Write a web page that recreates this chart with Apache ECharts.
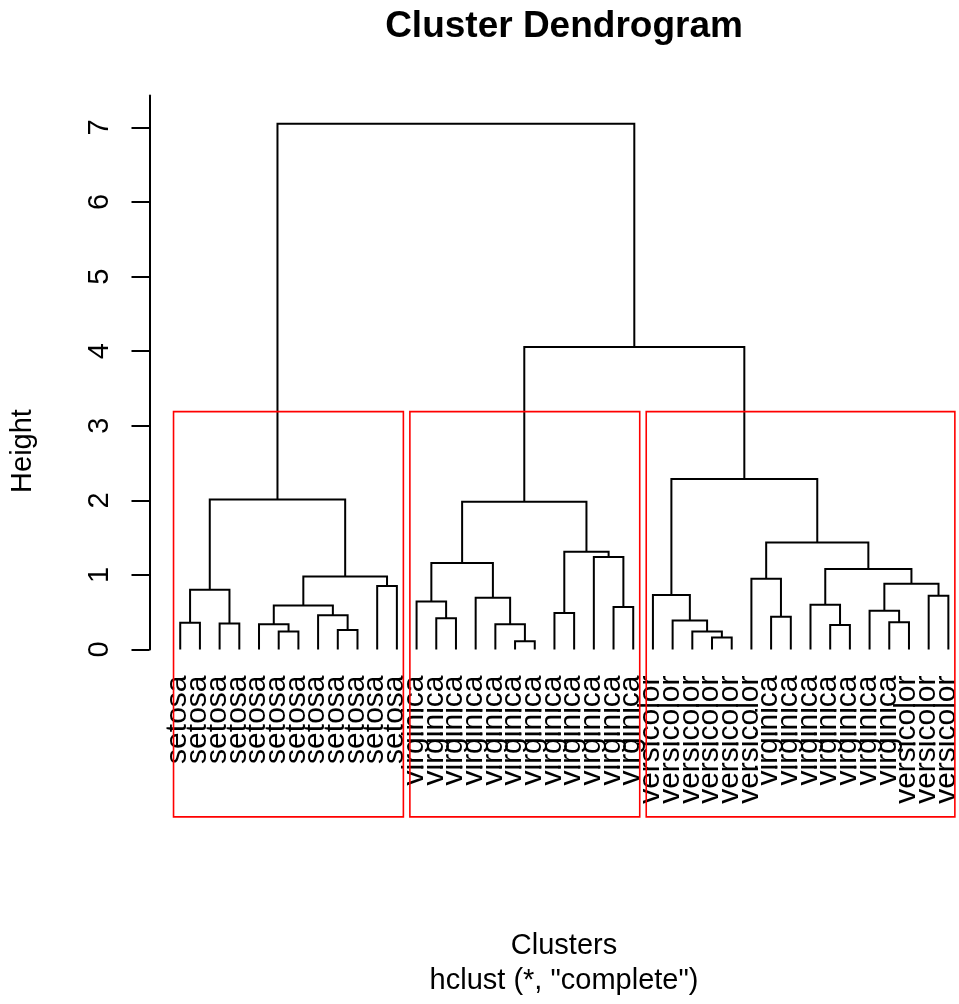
<!DOCTYPE html>
<html>
<head>
<meta charset="utf-8">
<script src="https://cdn.jsdelivr.net/npm/echarts@6/dist/echarts.min.js"></script>
<style>
html,body{margin:0;padding:0;background:#fff;}
#chart{width:959px;height:1004px;}
</style>
</head>
<body>
<div id="chart"></div>
<script>
// Leaf labels, in dendrogram order (left to right)
const leafLabels = [
  'setosa','setosa','setosa','setosa','setosa','setosa','setosa','setosa','setosa','setosa','setosa','setosa',
  'virginica','virginica','virginica','virginica','virginica','virginica','virginica','virginica','virginica','virginica','virginica','virginica',
  'versicolor','versicolor','versicolor','versicolor','versicolor','versicolor',
  'virginica','virginica','virginica','virginica','virginica','virginica','virginica',
  'versicolor','versicolor','versicolor'
];
// Merge table (R hclust style): negative = leaf position, positive = earlier merge number
const mergeLeft  = [-1,-3, 1,-6,-5,-9,-8, 5,-11, 8, 3,
                    -14,-13,-18,-17,-16,13,-20,-23,-22,18,17,
                    -28,-27,-26,-25,-31,-30,-34,-33,-37,-36,-39,32,30,28,26,22,11];
const mergeRight = [-2,-4, 2,-7, 4,-10, 6, 7,-12, 9,10,
                    -15, 12,-19, 14, 15,16,-21,-24, 19,20,21,
                    -29, 23, 24, 25,-32, 27,-35, 29,-38, 31,-40,33,34,35,36,37,38];
const mergeHeight = [0.36,0.35,0.80,0.24,0.34,0.26,0.46,0.59,0.85,0.98,2.01,
                     0.42,0.645,0.11,0.34,0.695,1.16,0.49,0.57,1.24,1.31,1.98,
                     0.16,0.24,0.39,0.73,0.44,0.95,0.33,0.60,0.365,0.52,0.72,0.88,1.08,1.435,2.285,4.055,7.05];
// Cluster boxes (rect.hclust, k = 3)
const boxFirstLeaf = [1, 13, 25];
const boxLastLeaf  = [12, 24, 40];
const boxTop = 3.19;
const boxBottom = -2.245;
// Y axis ticks
const yTicks = [0,1,2,3,4,5,6,7];

// ---- derive drawing data from the merge table ----
const nodeX = [], nodeH = [];
function posOf(id){ return id < 0 ? -id : nodeX[id-1]; }
function hOf(id){ return id < 0 ? 0 : nodeH[id-1]; }
const segData = [];
for (let i = 0; i < mergeHeight.length; i++) {
  const xl = posOf(mergeLeft[i]), xr = posOf(mergeRight[i]);
  segData.push([xl, hOf(mergeLeft[i]), xr, hOf(mergeRight[i]), mergeHeight[i]]);
  nodeX.push((xl + xr) / 2);
  nodeH.push(mergeHeight[i]);
}
const leafData = leafLabels.map((l, i) => [i + 1, 0, l]);
const boxData = boxFirstLeaf.map((f, i) => [f, boxLastLeaf[i], boxTop, boxBottom]);

const FONT = "'Liberation Sans', Arial, Helvetica, sans-serif";
const chart = echarts.init(document.getElementById('chart'), null, {renderer: 'canvas'});
chart.setOption({
  backgroundColor: '#ffffff',
  animation: false,
  grid: {left: 149.5, right: 0, top: 95.4, bottom: 354.5, containLabel: false},
  xAxis: {type: 'value', min: -0.56, max: 40.54, show: false},
  yAxis: {
    type: 'value', min: 0, max: 7.43, interval: 1,
    axisLine: {show: true, onZero: false, lineStyle: {color: '#000', width: 2}},
    axisTick: {show: true, length: 18, lineStyle: {color: '#000', width: 2}, customValues: yTicks},
    axisLabel: {show: true, rotate: 90, margin: 35, fontSize: 29, color: '#000', fontFamily: FONT, customValues: yTicks},
    splitLine: {show: false}
  },
  graphic: [
    {type: 'text', x: 564, y: 27, style: {text: 'Cluster Dendrogram', fontSize: 37, fontWeight: 'bold', fontFamily: FONT, fill: '#000', align: 'center', verticalAlign: 'middle'}},
    {type: 'text', x: 564, y: 946, style: {text: 'Clusters', fontSize: 29, fontFamily: FONT, fill: '#000', align: 'center', verticalAlign: 'middle'}},
    {type: 'text', x: 564, y: 981, style: {text: 'hclust (*, "complete")', fontSize: 29, fontFamily: FONT, fill: '#000', align: 'center', verticalAlign: 'middle'}},
    {type: 'text', x: 23, y: 451, rotation: Math.PI / 2, style: {text: 'Height', fontSize: 29, fontFamily: FONT, fill: '#000', align: 'center', verticalAlign: 'middle'}}
  ],
  series: [
    {
      type: 'custom', name: 'tree', clip: false, silent: true,
      data: segData,
      renderItem: function (params, api) {
        const a = api.coord([api.value(0), api.value(1)]);
        const b = api.coord([api.value(0), api.value(4)]);
        const c = api.coord([api.value(2), api.value(4)]);
        const d = api.coord([api.value(2), api.value(3)]);
        return {type: 'polyline', shape: {points: [a, b, c, d]}, style: {stroke: '#000', lineWidth: 2, fill: null}};
      }
    },
    {
      type: 'custom', name: 'leaves', clip: false, silent: true,
      data: leafData,
      renderItem: function (params, api) {
        const p = api.coord([api.value(0), api.value(1)]);
        return {type: 'text', x: p[0] - 2, y: p[1] + 26, rotation: Math.PI / 2,
          style: {text: leafLabels[params.dataIndex], fontSize: 30, fontFamily: FONT, fill: '#000', align: 'right', verticalAlign: 'middle'}};
      }
    },
    {
      type: 'custom', name: 'boxes', clip: false, silent: true,
      data: boxData,
      renderItem: function (params, api) {
        const tl = api.coord([api.value(0) - 0.34, api.value(2)]);
        const br = api.coord([api.value(1) + 0.33, api.value(3)]);
        return {type: 'rect', shape: {x: tl[0], y: tl[1], width: br[0] - tl[0], height: br[1] - tl[1]},
          style: {stroke: '#ff0000', lineWidth: 1.6, fill: null}};
      }
    }
  ]
});
</script>
</body>
</html>
